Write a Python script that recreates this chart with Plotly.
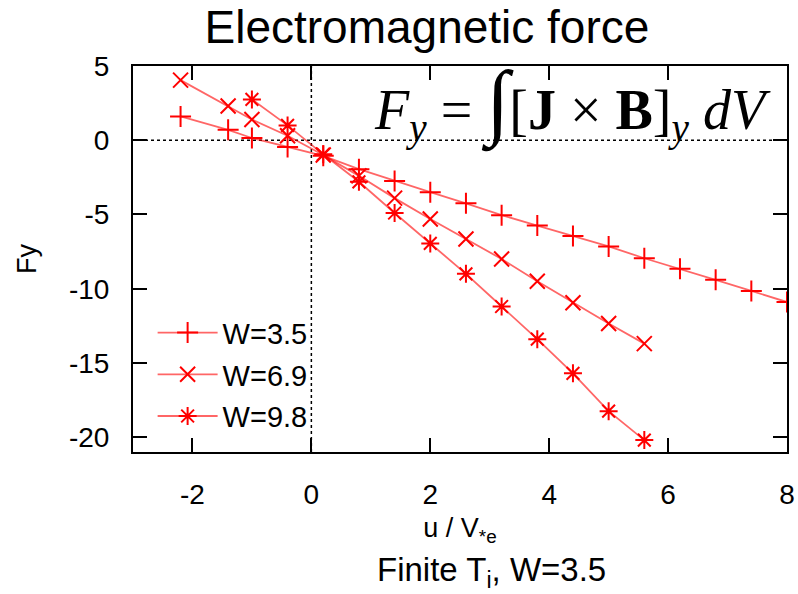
import plotly.graph_objects as go

# W = 3.5  (+)
x_w35 = [-2.2, -1.4, -1.0, -0.4, 0.2, 0.8, 1.4, 2.0, 2.6, 3.2, 3.8, 4.4, 5.0, 5.6, 6.2, 6.8, 7.4, 8.0]
y_w35 = [1.6, 0.7, 0.15, -0.45, -1.05, -1.95, -2.75, -3.5, -4.25, -5.05, -5.75, -6.45, -7.15, -7.95, -8.65, -9.4, -10.15, -10.9]
# W = 6.9  (x)
x_w69 = [-2.2, -1.4, -1.0, -0.4, 0.2, 0.8, 1.4, 2.0, 2.6, 3.2, 3.8, 4.4, 5.0, 5.6]
y_w69 = [4.05, 2.3, 1.4, 0.3, -1.0, -2.4, -3.9, -5.3, -6.65, -8.0, -9.5, -10.95, -12.35, -13.7]
# W = 9.8  (*)
x_w98 = [-1.0, -0.4, 0.2, 0.8, 1.4, 2.0, 2.6, 3.2, 3.8, 4.4, 5.0, 5.6]
y_w98 = [2.75, 1.0, -0.95, -2.8, -4.9, -6.95, -9.0, -11.2, -13.4, -15.7, -18.25, -20.2]

names = ["W=3.5", "W=6.9", "W=9.8"]
symbols = ["cross-thin-open", "x-thin-open", "asterisk-open"]
xs = [x_w35, x_w69, x_w98]
ys = [y_w35, y_w69, y_w98]

x_ticks = [-2, 0, 2, 4, 6, 8]
x_ticktext = ["-2", "0", "2", "4", "6", "8"]
y_ticks = [5, 0, -5, -10, -15, -20]
y_ticktext = ["5", "0", "-5", "-10", "-15", "-20"]

SANS = "Liberation Sans, Arial"
SERIF = "Liberation Serif, Times New Roman"

fig = go.Figure()
for name, sym, xv, yv in zip(names, symbols, xs, ys):
    fig.add_trace(go.Scatter(
        x=xv, y=yv, name=name, legendgroup=name, mode="lines+markers",
        line=dict(color="rgba(255,0,0,0.6)", width=1.8),
        marker=dict(symbol=sym, size=15, color="red",
                    line=dict(color="red", width=2)),
    ))

fig.add_vline(x=0, line=dict(color="black", width=1.5, dash="dot"), layer="below")
fig.add_hline(y=0, line=dict(color="black", width=1.5, dash="dot"), layer="below")

axis_common = dict(
    showline=True, linecolor="black", linewidth=2, mirror="allticks",
    ticks="inside", ticklen=14, tickwidth=2, tickcolor="black",
    showgrid=False, zeroline=False, ticklabelstandoff=16, automargin=False,
    tickfont=dict(family=SANS, size=28, color="black"),
)

fig.update_layout(
    width=798, height=594,
    margin=dict(l=133, r=11, t=66, b=142, autoexpand=False),
    paper_bgcolor="white", plot_bgcolor="white",
    title=dict(text="Electromagnetic force", x=0.535, xanchor="center",
               y=0.955, yanchor="middle", automargin=False,
               font=dict(family=SANS, size=46, color="black")),
    xaxis=dict(range=[-3, 8], tickvals=x_ticks, ticktext=x_ticktext, **axis_common,
               title=dict(text="u / V<sub>*e</sub>", standoff=10,
                          font=dict(family=SANS, size=27, color="black"))),
    yaxis=dict(range=[-21, 5], tickvals=y_ticks, ticktext=y_ticktext, **axis_common,
               title=dict(text="Fy", standoff=24,
                          font=dict(family=SANS, size=27, color="black"))),
    showlegend=True,
    legend=dict(x=0.03, y=0.375, xanchor="left", yanchor="top",
                traceorder="grouped", tracegroupgap=1,
                bgcolor="rgba(0,0,0,0)", itemwidth=60,
                font=dict(family=SANS, size=29, color="black")),
    annotations=[
        dict(text="Finite T<sub>i</sub>, W=3.5", xref="paper", yref="paper",
             x=0.548, y=-0.31, xanchor="center", yanchor="middle", showarrow=False,
             font=dict(family=SANS, size=33, color="black")),
        dict(text="<i>F</i><sub><i>y</i></sub> = <span style=\"font-size:84px\">∫</span>[<b>J</b> × <b>B</b>]<sub><i>y</i></sub> <i>dV</i>",
             xref="paper", yref="paper", x=0.979, y=0.905, xanchor="right", yanchor="middle",
             showarrow=False,
             font=dict(family=SERIF, size=56, color="black")),
    ],
)

fig.write_html("out.html")
